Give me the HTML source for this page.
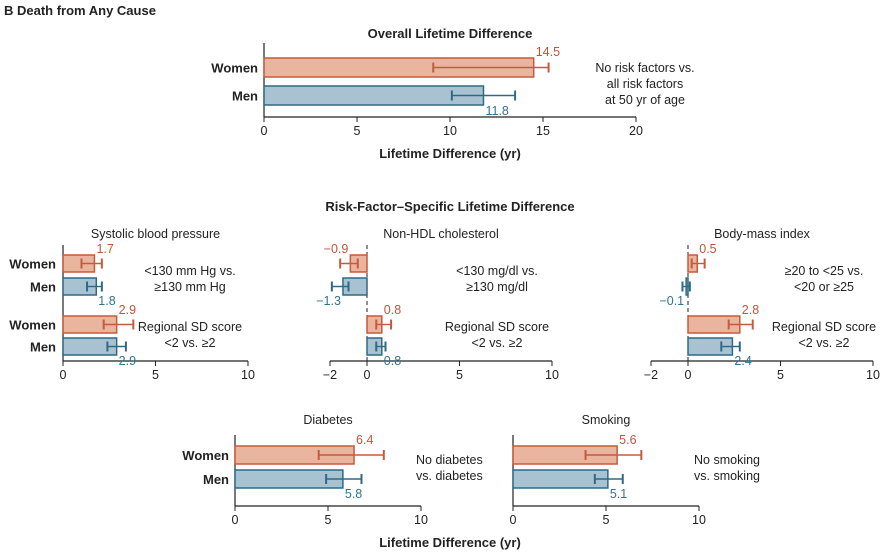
<!DOCTYPE html>
<html><head><meta charset="utf-8"><style>
body{margin:0;background:#fff;}
svg{display:block;font-family:"Liberation Sans",sans-serif;}
</style></head><body>
<svg id="c" width="886" height="554" xmlns="http://www.w3.org/2000/svg">
<text x="4" y="15" font-size="13" font-weight="bold" fill="#222">B  Death from Any Cause</text>
<text x="450" y="38" font-size="13" font-weight="bold" text-anchor="middle" fill="#222">Overall Lifetime Difference</text>
<text x="450" y="158" font-size="13" font-weight="bold" text-anchor="middle" fill="#222">Lifetime Difference (yr)</text>
<text x="450" y="211" font-size="13" font-weight="bold" text-anchor="middle" fill="#222">Risk-Factor–Specific Lifetime Difference</text>
<text x="450" y="547" font-size="13" font-weight="bold" text-anchor="middle" fill="#222">Lifetime Difference (yr)</text>
</svg>
<script>
const panelNames=["overall","sbp","nonhdl","bmi","diabetes","smoking"];
const panelTitles=["","Systolic blood pressure","Non-HDL cholesterol","Body-mass index","Diabetes","Smoking"];
const groupLabels=[["Women","Men"],["Women","Men","Women","Men"],["Women","Men","Women","Men"],["Women","Men","Women","Men"],["Women","Men"],["Women","Men"]];
const values=[[14.5,11.8],[1.7,1.8,2.9,2.9],[-0.9,-1.3,0.8,0.8],[0.5,-0.1,2.8,2.4],[6.4,5.8],[5.6,5.1]];
const ciLow=[[9.1,10.1],[1.0,1.3,2.2,2.4],[-1.45,-1.9,0.5,0.5],[0.2,-0.3,2.2,1.8],[4.5,4.9],[3.9,4.4]];
const ciHigh=[[15.3,13.5],[2.1,2.1,3.8,3.4],[-0.5,-1.0,1.3,1.0],[0.9,0.1,3.5,2.8],[8.0,6.8],[6.9,5.9]];
const tickVals=[[0,5,10,15,20],[0,5,10],[-2,0,5,10],[-2,0,5,10],[0,5,10],[0,5,10]];
const labelsText=[["14.5","11.8"],["1.7","1.8","2.9","2.9"],["−0.9","−1.3","0.8","0.8"],["0.5","−0.1","2.8","2.4"],["6.4","5.8"],["5.6","5.1"]];
const notes=[
 [["No risk factors vs.","all risk factors","at 50 yr of age"]],
 [["<130 mm Hg vs.","≥130 mm Hg"],["Regional SD score","<2 vs. ≥2"]],
 [["<130 mg/dl vs.","≥130 mg/dl"],["Regional SD score","<2 vs. ≥2"]],
 [["≥20 to <25 vs.","<20 or ≥25"],["Regional SD score","<2 vs. ≥2"]],
 [["No diabetes","vs. diabetes"]],
 [["No smoking","vs. smoking"]]];
const L=[
 {x0:264,ppu:18.6,min:0,max:20,ay:117,top:43,bars:[58,86],bh:19,lblX:258,ty:0,noteX:645,noteY:[72],noteA:"middle",dash:false},
 {x0:63,ppu:18.5,min:0,max:10,ay:361,top:245,bars:[255,278,316,338],bh:17,lblX:56,ty:238,noteX:190,noteY:[275,331],noteA:"middle",dash:false},
 {x0:367,ppu:18.5,min:-2,max:10,ay:361,top:245,bars:[255,278,316,338],bh:17,lblX:null,ty:238,noteX:497,noteY:[275,331],noteA:"middle",dash:true},
 {x0:688,ppu:18.5,min:-2,max:10,ay:361,top:245,bars:[255,278,316,338],bh:17,lblX:null,ty:238,noteX:824,noteY:[275,331],noteA:"middle",dash:true},
 {x0:235,ppu:18.6,min:0,max:10,ay:506,top:435,bars:[446,470],bh:18,lblX:229,ty:424,noteX:416,noteY:[464],noteA:"start",dash:false},
 {x0:513,ppu:18.6,min:0,max:10,ay:506,top:435,bars:[446,470],bh:18,lblX:null,ty:424,noteX:694,noteY:[464],noteA:"start",dash:false}];
const svg=document.getElementById('c');const NS="http://www.w3.org/2000/svg";
function mk(t,a,txt){const e=document.createElementNS(NS,t);for(const k in a)e.setAttribute(k,a[k]);if(txt!==undefined)e.textContent=txt;svg.appendChild(e);return e;}
const FILL=["#e9b59f","#a9c2d2"],STR=["#c65a3c","#2d6a86"],TXT=["#c0553a","#2f7492"];
panelNames.forEach((pn,p)=>{
 const g=L[p];const sx=v=>g.x0+v*g.ppu;
 if(panelTitles[p]){const t=mk('text',{x:(sx(g.min)+sx(g.max))/2,y:g.ty,'font-size':12.5,'text-anchor':'middle',fill:'#222'},panelTitles[p]);
  
  }
 const ax=mk('line',{x1:sx(g.min),x2:sx(g.max),y1:g.ay,y2:g.ay,stroke:'#222','stroke-width':1.2});
 
 
 tickVals[p].forEach(v=>{
  mk('line',{x1:sx(v),x2:sx(v),y1:g.ay,y2:g.ay+5,stroke:'#222'});
  const t=mk('text',{x:sx(v),y:g.ay+18,'font-size':12.5,'text-anchor':'middle',fill:'#222'},v<0?'−'+(-v):String(v));
  
  
 });
 const zl=mk('line',{x1:sx(0),x2:sx(0),y1:g.top,y2:g.ay,stroke:'#222','stroke-width':g.dash?1:1.2,'stroke-dasharray':g.dash?'4,3':'none'});
 
 
 values[p].forEach((v,i)=>{
  const s=i%2;const y=g.bars[i],h=g.bh,cy=y+h/2;
  const x1=Math.min(sx(0),sx(v)),w=Math.abs(sx(v)-sx(0));
  const r=mk('rect',{x:x1,y:y,width:w,height:h,fill:FILL[s],stroke:STR[s],'stroke-width':1.5});
  
  
  const lo=sx(ciLow[p][i]),hi=sx(ciHigh[p][i]);
  mk('line',{x1:lo,x2:hi,y1:cy,y2:cy,stroke:STR[s],'stroke-width':1.4});
  mk('line',{x1:lo,x2:lo,y1:cy-5,y2:cy+5,stroke:STR[s],'stroke-width':2});
  mk('line',{x1:hi,x2:hi,y1:cy-5,y2:cy+5,stroke:STR[s],'stroke-width':2});
  const neg=v<0;const lx=neg?sx(v)-2:sx(v)+2;const ly=s===0?y-2:y+h+10;
  const t=mk('text',{x:lx,y:ly,'font-size':12.5,'text-anchor':neg?'end':'start',fill:TXT[s]},labelsText[p][i]);
  
  
  if(g.lblX!==null){const gl=mk('text',{x:g.lblX,y:cy+5,'font-size':13,'font-weight':'bold','text-anchor':'end',fill:'#222'},groupLabels[p][i]);
   
   }
 });
 notes[p].forEach((lines,k)=>{lines.forEach((ln,j)=>{
  const t=mk('text',{x:g.noteX,y:g.noteY[k]+j*16,'font-size':12.5,'text-anchor':g.noteA,fill:'#222'},ln);
  
  
 });});
});
</script>
</body></html>
